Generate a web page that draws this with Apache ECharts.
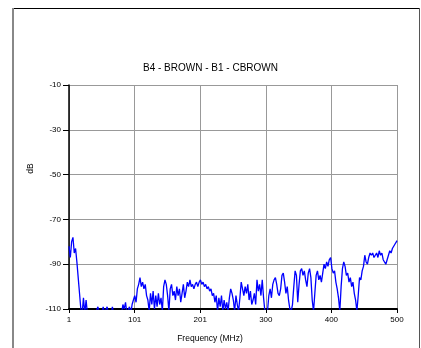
<!DOCTYPE html>
<html>
<head>
<meta charset="utf-8">
<script src="https://cdn.jsdelivr.net/npm/echarts@6/dist/echarts.min.js"></script>
<style>
html,body{margin:0;padding:0;background:#fff;}
#chart{width:421px;height:348px;}
</style>
</head>
<body>
<div id="chart"></div>
<script>
// Frequency (MHz), 2 MHz steps from 1 to 499, then 500
const freqs = [];
for (let f = 1; f <= 499; f += 2) freqs.push(f);
freqs.push(500);

// Measured level (dB); values below -110 fall under the axis floor
const levels = [
  -82, -87, -80, -78, -85, -83, -89, -96, -103, -110,
  -112, -105, -112, -106, -112, -112, -112, -112, -112, -112,
  -112, -112, -109, -112, -112, -112, -109, -112, -112, -109,
  -112, -112, -112, -109, -112, -112, -112, -112, -112, -112,
  -112, -108, -110, -107, -112, -112, -109, -112, -108, -106,
  -104, -107, -101, -99, -96, -100, -98, -101, -99, -104,
  -106, -111, -103, -108, -102, -110, -104, -109, -103, -108,
  -105, -111, -100, -97, -99, -104, -111, -101, -99, -104,
  -102, -106, -100, -104, -101, -107, -103, -99, -105, -102,
  -98, -100, -97, -100, -99, -101, -99, -98, -100, -98,
  -97, -99, -98, -100, -99, -101, -100, -102, -101, -104,
  -103, -107, -104, -111, -105, -109, -104, -111, -106, -110,
  -107, -111, -105, -101, -103, -106, -111, -104, -108, -111,
  -105, -98, -101, -104, -100, -103, -99, -106, -102, -108,
  -106, -103, -108, -97, -102, -99, -104, -97, -105, -111,
  -112, -111, -104, -101, -105, -99, -97, -96, -99, -103,
  -104, -101, -95, -94, -98, -103, -100, -106, -110, -111,
  -108, -100, -93, -95, -107, -99, -93, -92, -95, -93,
  -97, -100, -94, -92, -96, -106, -111, -103, -95, -93,
  -97, -95, -98, -94, -90, -92, -89, -91, -88, -87,
  -92, -94, -93, -98, -101, -105, -111, -100, -92, -89,
  -91, -95, -94, -98, -96, -100, -98, -103, -106, -111,
  -104, -96, -97, -93, -91, -86, -89, -90, -87, -85,
  -86, -85, -87, -86, -85, -87, -84, -86, -85, -88,
  -89, -90, -90, -86, -84, -85, -83, -82, -81, -80,
  -79.5
];

const xMin = 1, xMax = 500, xStep = 99.8;
const xTickLabels = ['1', '101', '201', '300', '400', '500'];
const yMin = -110, yMax = -10, yStep = 20;
const yTickLabels = ['-110', '-90', '-70', '-50', '-30', '-10'];

const titleText = 'B4 - BROWN - B1 - CBROWN';
const xName = 'Frequency (MHz)';
const yName = 'dB';

// axes are shifted so that tick counting starts at 0
const seriesData = freqs.map((f, i) => [f - xMin, levels[i] - yMin]);

const chart = echarts.init(document.getElementById('chart'), null, {renderer: 'canvas'});
const font = 'Liberation Sans, Arial, sans-serif';
chart.setOption({
  animation: false,
  backgroundColor: '#fff',
  title: {
    text: titleText,
    left: 'center',
    top: 58,
    textStyle: {fontSize: 10, fontWeight: 'normal', color: '#000', fontFamily: font}
  },
  grid: {left: 69, right: 24, top: 85, bottom: 36, containLabel: false},
  xAxis: {
    type: 'value',
    min: 0,
    max: xMax - xMin,
    interval: xStep,
    name: xName,
    nameLocation: 'middle',
    nameGap: 25,
    nameTextStyle: {fontSize: 8.5, color: '#000', fontFamily: font, padding: [0, 46, 0, 0]},
    axisLine: {lineStyle: {color: '#000', width: 2}},
    axisTick: {show: true, length: 4, lineStyle: {color: '#000', width: 1}},
    axisLabel: {
      fontSize: 8, color: '#000', fontFamily: font, margin: 7,
      formatter: (v, i) => xTickLabels[i]
    },
    splitLine: {show: true, lineStyle: {color: '#999', width: 1}}
  },
  yAxis: {
    type: 'value',
    min: 0,
    max: yMax - yMin,
    interval: yStep,
    name: yName,
    nameLocation: 'middle',
    nameRotate: 90,
    nameGap: 24,
    nameTextStyle: {fontSize: 8.5, color: '#000', fontFamily: font, padding: [0, 0, 0, 57]},
    axisLine: {lineStyle: {color: '#000', width: 1.5}},
    axisTick: {show: true, length: 6, lineStyle: {color: '#000', width: 1}},
    axisLabel: {
      fontSize: 8, color: '#000', fontFamily: font, margin: 8,
      formatter: (v, i) => yTickLabels[i]
    },
    splitLine: {show: true, lineStyle: {color: '#999', width: 1}}
  },
  graphic: [
    {type: 'line', shape: {x1: 12, y1: 8.5, x2: 419, y2: 8.5}, style: {stroke: '#000', lineWidth: 1}, silent: true},
    {type: 'line', shape: {x1: 13, y1: 8, x2: 13, y2: 348}, style: {stroke: '#888', lineWidth: 2}, silent: true},
    {type: 'line', shape: {x1: 419.5, y1: 8, x2: 419.5, y2: 348}, style: {stroke: '#555', lineWidth: 1}, silent: true}
  ],
  series: [{
    type: 'line',
    data: seriesData,
    showSymbol: false,
    clip: true,
    lineStyle: {color: '#0000ff', width: 1.3},
    itemStyle: {color: '#0000ff'},
    z: 1
  }]
});
</script>
</body>
</html>
